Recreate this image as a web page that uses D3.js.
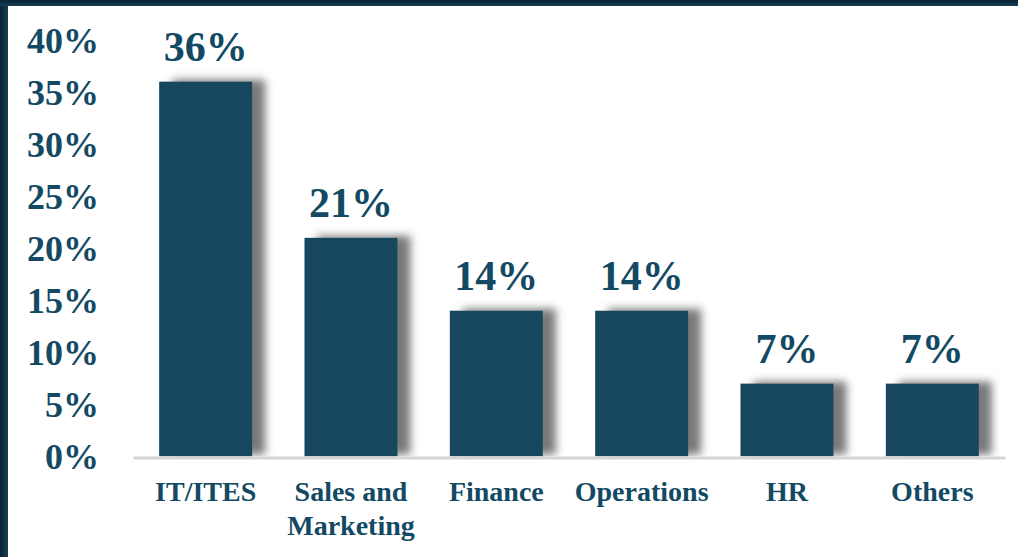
<!DOCTYPE html>
<html>
<head>
<meta charset="utf-8">
<script src="https://cdn.jsdelivr.net/npm/d3@7"></script>
<style>
  html, body { margin: 0; padding: 0; background: #ffffff; }
  svg { display: block; }
  .chart text { font-family: "Liberation Serif", "Times New Roman", serif; font-weight: bold; fill: #134a63; }
</style>
</head>
<body>
<div class="chart"></div>
<script>
// chart values
var categories = ["IT/ITES", "Sales and Marketing", "Finance", "Operations", "HR", "Others"];
var shares = [36, 21, 14, 14, 7, 7];
var valueLabels = ["36%", "21%", "14%", "14%", "7%", "7%"];
var yTicks = [0, 5, 10, 15, 20, 25, 30, 35, 40];

var svgWidth = 1018;
var svgHeight = 557;

var margin = { top: 40, right: 13, bottom: 100, left: 133 };
var width = svgWidth - margin.left - margin.right;
var height = 456.5 - margin.top;

var svg = d3.select(".chart")
  .append("svg")
  .attr("width", svgWidth)
  .attr("height", svgHeight);

var defs = svg.append("defs");

// slide frame gradients
var gLeft = defs.append("linearGradient").attr("id", "frameLeft")
  .attr("x1", "0").attr("x2", "1").attr("y1", "0").attr("y2", "0");
gLeft.append("stop").attr("offset", "0%").attr("stop-color", "#0a2232");
gLeft.append("stop").attr("offset", "100%").attr("stop-color", "#163f55");
var gTop = defs.append("linearGradient").attr("id", "frameTop")
  .attr("x1", "0").attr("x2", "0").attr("y1", "0").attr("y2", "1");
gTop.append("stop").attr("offset", "0%").attr("stop-color", "#0a2232");
gTop.append("stop").attr("offset", "100%").attr("stop-color", "#163f55");

// bar shadow
var shadow = defs.append("filter").attr("id", "barShadow")
  .attr("x", "-20%").attr("y", "-20%").attr("width", "160%").attr("height", "140%");
shadow.append("feGaussianBlur").attr("in", "SourceAlpha").attr("stdDeviation", 4).attr("result", "blur");
shadow.append("feOffset").attr("in", "blur").attr("dx", 13).attr("dy", -2).attr("result", "off");
shadow.append("feFlood").attr("flood-color", "#6a6a6a").attr("flood-opacity", 0.9);
shadow.append("feComposite").attr("in2", "off").attr("operator", "in").attr("result", "sh");
var merge = shadow.append("feMerge");
merge.append("feMergeNode").attr("in", "sh");
merge.append("feMergeNode").attr("in", "SourceGraphic");

defs.append("clipPath").attr("id", "plotClip")
  .append("rect")
  .attr("x", -20).attr("y", -20)
  .attr("width", width + 40).attr("height", height + 20);

svg.append("rect").attr("x", 0).attr("y", 0).attr("width", 8).attr("height", svgHeight).attr("fill", "url(#frameLeft)");
svg.append("rect").attr("x", 0).attr("y", 0).attr("width", svgWidth).attr("height", 6).attr("fill", "url(#frameTop)");

var chartGroup = svg.append("g")
  .attr("transform", `translate(${margin.left}, ${margin.top})`);

// scales
var xBandScale = d3.scaleBand()
  .domain(categories)
  .range([0, width])
  .paddingInner(0.36)
  .paddingOuter(0.18);

var yLinearScale = d3.scaleLinear()
  .domain([0, 40])
  .range([height, 0]);

// y axis, labels only
var leftAxis = d3.axisLeft(yLinearScale)
  .tickValues(yTicks)
  .tickFormat(d => d + "%")
  .tickSize(0)
  .tickPadding(34);

var yAxis = chartGroup.append("g").call(leftAxis);
yAxis.select(".domain").remove();
yAxis.selectAll("text")
  .attr("font-size", "36px")
  .attr("font-family", null)
  .attr("dy", "0.34em");

// bars
var data = categories.map((c, i) => ({ cat: c, value: shares[i], label: valueLabels[i] }));

chartGroup.append("g")
  .attr("clip-path", "url(#plotClip)")
  .selectAll("rect")
  .data(data)
  .enter()
  .append("rect")
  .attr("x", d => xBandScale(d.cat))
  .attr("y", d => yLinearScale(d.value))
  .attr("width", xBandScale.bandwidth())
  .attr("height", d => height - yLinearScale(d.value))
  .attr("fill", "#12475f")
  .attr("filter", "url(#barShadow)");

// x axis
var bottomAxis = d3.axisBottom(xBandScale)
  .tickSize(0)
  .tickSizeOuter(0)
  .tickFormat("");

var xAxis = chartGroup.append("g")
  .attr("transform", `translate(0, ${height + 1})`)
  .call(bottomAxis);
xAxis.select(".domain")
  .attr("stroke", "#d4d4d4")
  .attr("stroke-width", 3);

// category labels (wrap long ones)
var catLabels = chartGroup.append("g")
  .selectAll("text")
  .data(categories)
  .enter()
  .append("text")
  .attr("text-anchor", "middle")
  .attr("font-size", "28px")
  .attr("x", d => xBandScale(d) + xBandScale.bandwidth() / 2)
  .attr("y", height + 44);

catLabels.each(function(d) {
  var t = d3.select(this);
  var lines = d.length > 12 ? [d.slice(0, d.lastIndexOf(" ")), d.slice(d.lastIndexOf(" ") + 1)] : [d];
  lines.forEach(function(line, i) {
    t.append("tspan")
      .attr("x", xBandScale(d) + xBandScale.bandwidth() / 2)
      .attr("dy", i === 0 ? 0 : 34)
      .text(line);
  });
});

// value labels
chartGroup.append("g")
  .selectAll("text")
  .data(data)
  .enter()
  .append("text")
  .attr("text-anchor", "middle")
  .attr("font-size", "42px")
  .attr("x", d => xBandScale(d.cat) + xBandScale.bandwidth() / 2)
  .attr("y", d => yLinearScale(d.value) - 21)
  .text(d => d.label);
</script>
</body>
</html>
